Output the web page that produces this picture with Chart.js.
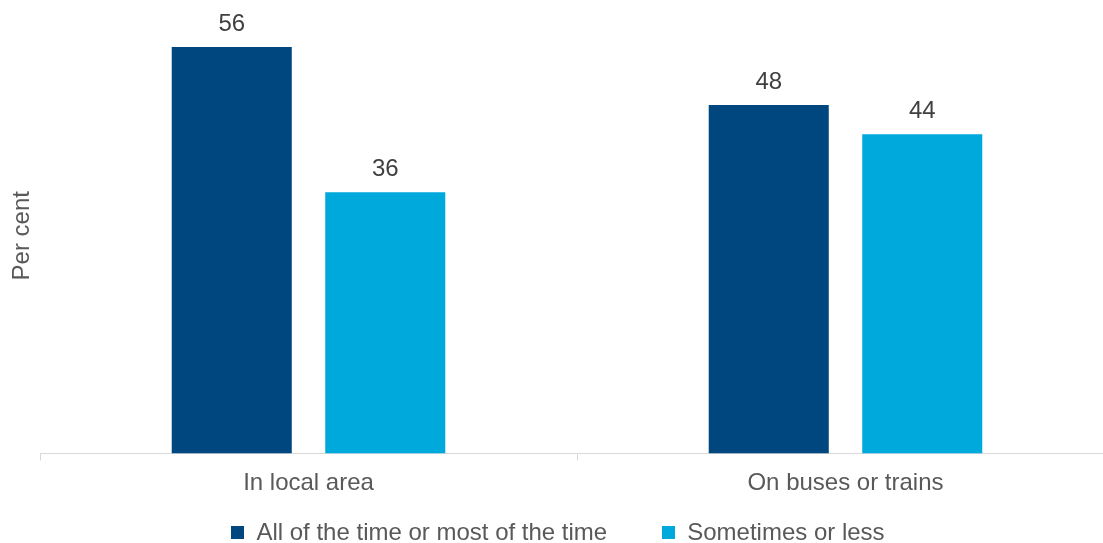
<!DOCTYPE html>
<html>
<head>
<meta charset="utf-8">
<script src="https://cdn.jsdelivr.net/npm/chart.js@4.4.1/dist/chart.umd.min.js"></script>
<style>
  html, body { margin: 0; padding: 0; background: #ffffff; overflow: hidden; }
  /* plot runs slightly past the right edge of the window */
  #wrap { position: relative; width: 1114px; height: 543px; }
</style>
</head>
<body>
<div id="wrap"><canvas id="chart"></canvas></div>
<script>
// Data
const categories = ['In local area', 'On buses or trains'];
const seriesNames = ['All of the time or most of the time', 'Sometimes or less'];
const mostOfTheTime = [56, 48];
const sometimesOrLess = [36, 44];
const axisTitle = 'Per cent';
const yRange = [0, 60];

// Styling
const FONT_FAMILY = '"Liberation Sans", Arial, Helvetica, sans-serif';
const TEXT_GREY = '#595959';
const LABEL_GREY = '#404040';
const AXIS_GREY = '#d9d9d9';
const COLORS = ['#00467f', '#00a9dc'];

// Value printed above every bar
const valueLabels = {
  id: 'valueLabels',
  afterDatasetsDraw(chart) {
    const ctx = chart.ctx;
    ctx.save();
    ctx.font = '24px ' + FONT_FAMILY;
    ctx.fillStyle = LABEL_GREY;
    ctx.textAlign = 'center';
    ctx.textBaseline = 'alphabetic';
    chart.data.datasets.forEach((ds, i) => {
      chart.getDatasetMeta(i).data.forEach((bar, j) => {
        ctx.fillText(String(ds.data[j]), bar.x, bar.y - 16);
      });
    });
    ctx.restore();
  }
};

// Single-row legend under the axis labels
const bottomLegend = {
  id: 'bottomLegend',
  afterDraw(chart) {
    const ctx = chart.ctx;
    const box = 13, gap = 12, itemGap = 55, baseline = 540;
    ctx.save();
    ctx.font = '24px ' + FONT_FAMILY;
    ctx.textBaseline = 'alphabetic';
    ctx.textAlign = 'left';
    const items = chart.data.datasets.map(ds => ({
      text: ds.label, color: ds.backgroundColor, w: ctx.measureText(ds.label).width
    }));
    const total = items.reduce((s, it) => s + box + gap + it.w, 0) + itemGap * (items.length - 1);
    let x = chart.width / 2 + 1 - total / 2;
    items.forEach(it => {
      ctx.fillStyle = it.color;
      ctx.fillRect(Math.round(x), baseline - 14, box, box);
      ctx.fillStyle = TEXT_GREY;
      ctx.fillText(it.text, x + box + gap, baseline);
      x += box + gap + it.w + itemGap;
    });
    ctx.restore();
  }
};

new Chart(document.getElementById('chart'), {
  type: 'bar',
  data: {
    labels: categories,
    datasets: [
      { label: seriesNames[0], data: mostOfTheTime, backgroundColor: COLORS[0] },
      { label: seriesNames[1], data: sometimesOrLess, backgroundColor: COLORS[1] }
    ]
  },
  options: {
    responsive: true,
    maintainAspectRatio: false,
    animation: false,
    devicePixelRatio: 1,
    categoryPercentage: 0.5717,
    barPercentage: 0.782,
    layout: { padding: { top: 18, right: 0, bottom: 37.7, left: 0 } },
    plugins: {
      legend: { display: false },
      tooltip: { enabled: false }
    },
    scales: {
      x: {
        offset: true,
        grid: {
          display: true,
          offset: true,
          drawOnChartArea: false,
          drawTicks: true,
          tickLength: 7,
          color: AXIS_GREY,
          lineWidth: 1
        },
        border: { display: true, color: AXIS_GREY, width: 1 },
        ticks: {
          color: TEXT_GREY,
          font: { family: FONT_FAMILY, size: 24, lineHeight: 1.2 },
          padding: 8,
          maxRotation: 0,
          autoSkip: false
        }
      },
      y: {
        min: yRange[0],
        max: yRange[1],
        ticks: { display: false },
        grid: { display: false, drawTicks: false },
        border: { display: false },
        title: {
          display: true,
          text: axisTitle,
          color: TEXT_GREY,
          font: { family: FONT_FAMILY, size: 24, lineHeight: 1.2 },
          padding: { top: 7.6, bottom: 3.6 }
        }
      }
    }
  },
  plugins: [valueLabels, bottomLegend]
});
</script>
</body>
</html>
